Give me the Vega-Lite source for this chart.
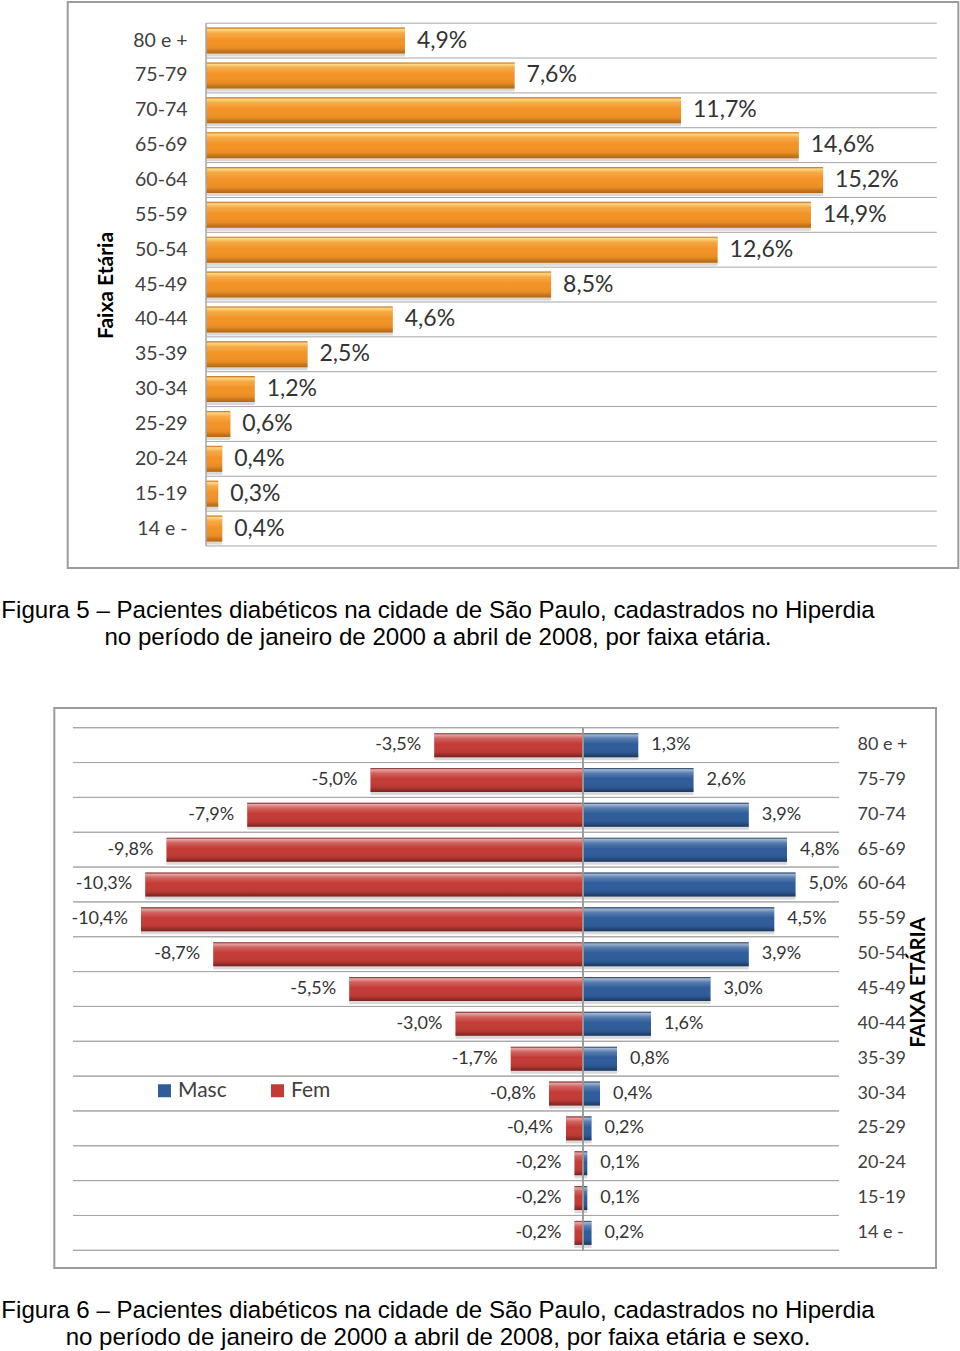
{
  "$schema": "https://vega.github.io/schema/vega-lite/v6.json",
  "padding": 0,
  "autosize": {"type": "pad"},
  "spacing": 140,
  "bounds": "flush",
  "resolve": {"legend": {"color": "independent"}},
  "config": {
    "view": {"stroke": "transparent"},
    "font": "Lato",
    "locale": {"number": {"decimal": ",", "thousands": ".", "grouping": [3], "currency": ["R$", ""], "minus": "-"}}
  },
  "datasets": {
    "total": [
      {"faixa": "80 e +", "pct": 0.049},
      {"faixa": "75-79", "pct": 0.076},
      {"faixa": "70-74", "pct": 0.117},
      {"faixa": "65-69", "pct": 0.146},
      {"faixa": "60-64", "pct": 0.152},
      {"faixa": "55-59", "pct": 0.149},
      {"faixa": "50-54", "pct": 0.126},
      {"faixa": "45-49", "pct": 0.085},
      {"faixa": "40-44", "pct": 0.046},
      {"faixa": "35-39", "pct": 0.025},
      {"faixa": "30-34", "pct": 0.012},
      {"faixa": "25-29", "pct": 0.006},
      {"faixa": "20-24", "pct": 0.004},
      {"faixa": "15-19", "pct": 0.003},
      {"faixa": "14 e -", "pct": 0.004}
    ],
    "sexo": [
      {"faixa": "80 e +", "sexo": "Masc", "pct": 0.013},
      {"faixa": "80 e +", "sexo": "Fem", "pct": -0.035},
      {"faixa": "75-79", "sexo": "Masc", "pct": 0.026},
      {"faixa": "75-79", "sexo": "Fem", "pct": -0.050},
      {"faixa": "70-74", "sexo": "Masc", "pct": 0.039},
      {"faixa": "70-74", "sexo": "Fem", "pct": -0.079},
      {"faixa": "65-69", "sexo": "Masc", "pct": 0.048},
      {"faixa": "65-69", "sexo": "Fem", "pct": -0.098},
      {"faixa": "60-64", "sexo": "Masc", "pct": 0.050},
      {"faixa": "60-64", "sexo": "Fem", "pct": -0.103},
      {"faixa": "55-59", "sexo": "Masc", "pct": 0.045},
      {"faixa": "55-59", "sexo": "Fem", "pct": -0.104},
      {"faixa": "50-54", "sexo": "Masc", "pct": 0.039},
      {"faixa": "50-54", "sexo": "Fem", "pct": -0.087},
      {"faixa": "45-49", "sexo": "Masc", "pct": 0.030},
      {"faixa": "45-49", "sexo": "Fem", "pct": -0.055},
      {"faixa": "40-44", "sexo": "Masc", "pct": 0.016},
      {"faixa": "40-44", "sexo": "Fem", "pct": -0.030},
      {"faixa": "35-39", "sexo": "Masc", "pct": 0.008},
      {"faixa": "35-39", "sexo": "Fem", "pct": -0.017},
      {"faixa": "30-34", "sexo": "Masc", "pct": 0.004},
      {"faixa": "30-34", "sexo": "Fem", "pct": -0.008},
      {"faixa": "25-29", "sexo": "Masc", "pct": 0.002},
      {"faixa": "25-29", "sexo": "Fem", "pct": -0.004},
      {"faixa": "20-24", "sexo": "Masc", "pct": 0.001},
      {"faixa": "20-24", "sexo": "Fem", "pct": -0.002},
      {"faixa": "15-19", "sexo": "Masc", "pct": 0.001},
      {"faixa": "15-19", "sexo": "Fem", "pct": -0.002},
      {"faixa": "14 e -", "sexo": "Masc", "pct": 0.002},
      {"faixa": "14 e -", "sexo": "Fem", "pct": -0.002}
    ]
  },
  "vconcat": [
    {
      "width": 958,
      "height": 566,
      "data": {"name": "total"},
      "title": {
        "text": ["Figura 5 – Pacientes diabéticos na cidade de São Paulo, cadastrados no Hiperdia", "no período de janeiro de 2000 a abril de 2008, por faixa etária."],
        "orient": "bottom", "anchor": "middle", "frame": "group", "align": "center", "dx": -42, "offset": 29.5,
        "font": "Liberation Sans", "fontSize": 24.1, "fontWeight": "normal", "color": "#000000", "lineHeight": 27, "baseline": "top"
      },
      "layer": [
        {
          "data": {"values": [{}]},
          "mark": {"type": "rect", "filled": false, "color": "#9c9c9c", "strokeWidth": 2},
          "encoding": {
            "x": {"datum": -0.034064, "type": "quantitative", "scale": {"domain": [-0.050493, 0.185468], "nice": false, "zero": false}, "axis": null},
            "x2": {"datum": 0.1853}
          }
        },
        {
          "mark": {"type": "rule", "color": "#a6a6a6", "strokeWidth": 1},
          "encoding": {
            "y": {"field": "faixa", "type": "nominal", "sort": null, "bandPosition": 0, "scale": {"paddingInner": 0, "paddingOuter": 0.62, "align": 0.49},
              "axis": {"orient": "left", "offset": -205, "labelPadding": 19, "ticks": false, "domain": false, "grid": false, "labelFontSize": 19.5, "labelColor": "#404040", "labelFont": "Lato", "title": "Faixa Etária", "titleFontSize": 21, "titleFontWeight": "bold", "titleColor": "#000000", "titleFont": "Lato", "titlePadding": 16}},
            "x": {"datum": 0, "type": "quantitative", "scale": {"domain": [-0.050493, 0.185468], "nice": false, "zero": false}, "axis": null},
            "x2": {"datum": 0.18}
          }
        },
        {
          "transform": [{"filter": "datum.faixa == '14 e -'"}],
          "mark": {"type": "rule", "color": "#a6a6a6", "strokeWidth": 1},
          "encoding": {
            "y": {"field": "faixa", "type": "nominal", "sort": null, "bandPosition": 1, "scale": {"paddingInner": 0, "paddingOuter": 0.62, "align": 0.49},
              "axis": {"orient": "left", "offset": -205, "labelPadding": 19, "ticks": false, "domain": false, "grid": false, "labelFontSize": 19.5, "labelColor": "#404040", "labelFont": "Lato", "title": "Faixa Etária", "titleFontSize": 21, "titleFontWeight": "bold", "titleColor": "#000000", "titleFont": "Lato", "titlePadding": 16}},
            "x": {"datum": 0, "type": "quantitative", "scale": {"domain": [-0.050493, 0.185468], "nice": false, "zero": false}, "axis": null},
            "x2": {"datum": 0.18}
          }
        },
        {
          "mark": {"type": "bar", "height": 26, "yOffset": 3, "color": "#808080", "opacity": 0.3},
          "encoding": {
            "y": {"field": "faixa", "type": "nominal", "sort": null, "scale": {"paddingInner": 0, "paddingOuter": 0.62, "align": 0.49},
              "axis": {"orient": "left", "offset": -205, "labelPadding": 19, "ticks": false, "domain": false, "grid": false, "labelFontSize": 19.5, "labelColor": "#404040", "labelFont": "Lato", "title": "Faixa Etária", "titleFontSize": 21, "titleFontWeight": "bold", "titleColor": "#000000", "titleFont": "Lato", "titlePadding": 16}},
            "x": {"field": "pct", "type": "quantitative", "scale": {"domain": [-0.050493, 0.185468], "nice": false, "zero": false}, "axis": null}
          }
        },
        {
          "mark": {"type": "bar", "height": 26, "color": "#F39325"},
          "encoding": {
            "y": {"field": "faixa", "type": "nominal", "sort": null, "scale": {"paddingInner": 0, "paddingOuter": 0.62, "align": 0.49},
              "axis": {"orient": "left", "offset": -205, "labelPadding": 19, "ticks": false, "domain": false, "grid": false, "labelFontSize": 19.5, "labelColor": "#404040", "labelFont": "Lato", "title": "Faixa Etária", "titleFontSize": 21, "titleFontWeight": "bold", "titleColor": "#000000", "titleFont": "Lato", "titlePadding": 16}},
            "x": {"field": "pct", "type": "quantitative", "scale": {"domain": [-0.050493, 0.185468], "nice": false, "zero": false}, "axis": null}
          }
        },
        {
          "mark": {
            "type": "bar", "height": 26,
            "fill": {"gradient": "linear", "x1": 0, "y1": 0, "x2": 0, "y2": 1, "stops": [
              {"offset": 0, "color": "rgba(140,70,0,0.35)"},
              {"offset": 0.07, "color": "rgba(255,240,170,0.75)"},
              {"offset": 0.22, "color": "rgba(255,230,150,0.25)"},
              {"offset": 0.45, "color": "rgba(255,255,255,0)"},
              {"offset": 0.8, "color": "rgba(0,0,0,0.05)"},
              {"offset": 1, "color": "rgba(90,40,0,0.4)"}
            ]}
          },
          "encoding": {
            "y": {"field": "faixa", "type": "nominal", "sort": null, "scale": {"paddingInner": 0, "paddingOuter": 0.62, "align": 0.49},
              "axis": {"orient": "left", "offset": -205, "labelPadding": 19, "ticks": false, "domain": false, "grid": false, "labelFontSize": 19.5, "labelColor": "#404040", "labelFont": "Lato", "title": "Faixa Etária", "titleFontSize": 21, "titleFontWeight": "bold", "titleColor": "#000000", "titleFont": "Lato", "titlePadding": 16}},
            "x": {"field": "pct", "type": "quantitative", "scale": {"domain": [-0.050493, 0.185468], "nice": false, "zero": false}, "axis": null}
          }
        },
        {
          "mark": {"type": "bar", "fillOpacity": 0, "stroke": "#a6a6a6", "strokeWidth": 1},
          "encoding": {
            "y": {"field": "faixa", "type": "nominal", "sort": null, "scale": {"paddingInner": 0, "paddingOuter": 0.62, "align": 0.49},
              "axis": {"orient": "left", "offset": -205, "labelPadding": 19, "ticks": false, "domain": false, "grid": false, "labelFontSize": 19.5, "labelColor": "#404040", "labelFont": "Lato", "title": "Faixa Etária", "titleFontSize": 21, "titleFontWeight": "bold", "titleColor": "#000000", "titleFont": "Lato", "titlePadding": 16}},
            "x": {"datum": 0, "type": "quantitative", "scale": {"domain": [-0.050493, 0.185468], "nice": false, "zero": false}, "axis": null},
            "x2": {"datum": 0}
          }
        },
        {
          "mark": {"type": "text", "align": "left", "baseline": "middle", "dx": 12, "fontSize": 23, "color": "#333333", "font": "Lato"},
          "encoding": {
            "y": {"field": "faixa", "type": "nominal", "sort": null, "scale": {"paddingInner": 0, "paddingOuter": 0.62, "align": 0.49},
              "axis": {"orient": "left", "offset": -205, "labelPadding": 19, "ticks": false, "domain": false, "grid": false, "labelFontSize": 19.5, "labelColor": "#404040", "labelFont": "Lato", "title": "Faixa Etária", "titleFontSize": 21, "titleFontWeight": "bold", "titleColor": "#000000", "titleFont": "Lato", "titlePadding": 16}},
            "x": {"field": "pct", "type": "quantitative", "scale": {"domain": [-0.050493, 0.185468], "nice": false, "zero": false}, "axis": null},
            "text": {"field": "pct", "type": "quantitative", "format": ".1%"}
          }
        }
      ]
    },
    {
      "width": 958,
      "height": 560,
      "data": {"name": "sexo"},
      "title": {
        "text": ["Figura 6 – Pacientes diabéticos na cidade de São Paulo, cadastrados no Hiperdia", "no período de janeiro de 2000 a abril de 2008, por faixa etária e sexo."],
        "orient": "bottom", "anchor": "middle", "frame": "group", "align": "center", "dx": -42, "offset": 29.5,
        "font": "Liberation Sans", "fontSize": 24.1, "fontWeight": "normal", "color": "#000000", "lineHeight": 27, "baseline": "top"
      },
      "layer": [
        {
          "data": {"values": [{}]},
          "mark": {"type": "rect", "filled": false, "color": "#9c9c9c", "strokeWidth": 2},
          "encoding": {
            "x": {"datum": -0.1244, "type": "quantitative", "scale": {"domain": [-0.136941, 0.088471], "nice": false, "zero": false}, "axis": null},
            "x2": {"datum": 0.083059}
          }
        },
        {
          "mark": {"type": "rule", "color": "#a6a6a6", "strokeWidth": 1},
          "encoding": {
            "y": {"field": "faixa", "type": "nominal", "sort": null, "bandPosition": 0, "scale": {"paddingInner": 0, "paddingOuter": 0.537, "align": 0.527},
              "axis": {"orient": "right", "offset": -120, "labelPadding": 18, "ticks": false, "domain": false, "grid": false, "labelFontSize": 18, "labelColor": "#404040", "labelFont": "Lato", "title": "FAIXA ETÁRIA", "titleFontSize": 20, "titleFontWeight": "bold", "titleColor": "#000000", "titleFont": "Lato", "titleAngle": 270, "titleBaseline": "top", "titlePadding": 1, "titleY": 274}},
            "x": {"datum": -0.12, "type": "quantitative", "scale": {"domain": [-0.136941, 0.088471], "nice": false, "zero": false}, "axis": null},
            "x2": {"datum": 0.060235}
          }
        },
        {
          "transform": [{"filter": "datum.faixa == '14 e -'"}],
          "mark": {"type": "rule", "color": "#a6a6a6", "strokeWidth": 1},
          "encoding": {
            "y": {"field": "faixa", "type": "nominal", "sort": null, "bandPosition": 1, "scale": {"paddingInner": 0, "paddingOuter": 0.537, "align": 0.527},
              "axis": {"orient": "right", "offset": -120, "labelPadding": 18, "ticks": false, "domain": false, "grid": false, "labelFontSize": 18, "labelColor": "#404040", "labelFont": "Lato", "title": "FAIXA ETÁRIA", "titleFontSize": 20, "titleFontWeight": "bold", "titleColor": "#000000", "titleFont": "Lato", "titleAngle": 270, "titleBaseline": "top", "titlePadding": 1, "titleY": 274}},
            "x": {"datum": -0.12, "type": "quantitative", "scale": {"domain": [-0.136941, 0.088471], "nice": false, "zero": false}, "axis": null},
            "x2": {"datum": 0.060235}
          }
        },
        {
          "mark": {"type": "bar", "height": 24, "yOffset": 3, "color": "#808080", "opacity": 0.3},
          "encoding": {
            "y": {"field": "faixa", "type": "nominal", "sort": null, "scale": {"paddingInner": 0, "paddingOuter": 0.537, "align": 0.527},
              "axis": {"orient": "right", "offset": -120, "labelPadding": 18, "ticks": false, "domain": false, "grid": false, "labelFontSize": 18, "labelColor": "#404040", "labelFont": "Lato", "title": "FAIXA ETÁRIA", "titleFontSize": 20, "titleFontWeight": "bold", "titleColor": "#000000", "titleFont": "Lato", "titleAngle": 270, "titleBaseline": "top", "titlePadding": 1, "titleY": 274}},
            "x": {"field": "pct", "type": "quantitative", "scale": {"domain": [-0.136941, 0.088471], "nice": false, "zero": false}, "axis": null}
          }
        },
        {
          "mark": {"type": "bar", "height": 24},
          "encoding": {
            "y": {"field": "faixa", "type": "nominal", "sort": null, "scale": {"paddingInner": 0, "paddingOuter": 0.537, "align": 0.527},
              "axis": {"orient": "right", "offset": -120, "labelPadding": 18, "ticks": false, "domain": false, "grid": false, "labelFontSize": 18, "labelColor": "#404040", "labelFont": "Lato", "title": "FAIXA ETÁRIA", "titleFontSize": 20, "titleFontWeight": "bold", "titleColor": "#000000", "titleFont": "Lato", "titleAngle": 270, "titleBaseline": "top", "titlePadding": 1, "titleY": 274}},
            "x": {"field": "pct", "type": "quantitative", "scale": {"domain": [-0.136941, 0.088471], "nice": false, "zero": false}, "axis": null},
            "color": {
              "field": "sexo", "type": "nominal",
              "scale": {"domain": ["Masc", "Fem"], "range": ["#2F5D9B", "#C43B36"]},
              "legend": {
                "orient": "none", "legendX": 153, "legendY": 372, "direction": "horizontal", "title": null,
                "symbolType": "square", "symbolSize": 169, "symbolStrokeWidth": 0,
                "labelFontSize": 21, "labelColor": "#404040", "labelFont": "Lato", "labelOffset": 3, "columnPadding": 40, "padding": 0
              }
            }
          }
        },
        {
          "mark": {
            "type": "bar", "height": 24,
            "fill": {"gradient": "linear", "x1": 0, "y1": 0, "x2": 0, "y2": 1, "stops": [
              {"offset": 0, "color": "rgba(0,0,0,0.3)"},
              {"offset": 0.07, "color": "rgba(255,255,255,0.55)"},
              {"offset": 0.22, "color": "rgba(255,255,255,0.2)"},
              {"offset": 0.45, "color": "rgba(255,255,255,0)"},
              {"offset": 0.8, "color": "rgba(0,0,0,0.05)"},
              {"offset": 1, "color": "rgba(0,0,0,0.4)"}
            ]}
          },
          "encoding": {
            "y": {"field": "faixa", "type": "nominal", "sort": null, "scale": {"paddingInner": 0, "paddingOuter": 0.537, "align": 0.527},
              "axis": {"orient": "right", "offset": -120, "labelPadding": 18, "ticks": false, "domain": false, "grid": false, "labelFontSize": 18, "labelColor": "#404040", "labelFont": "Lato", "title": "FAIXA ETÁRIA", "titleFontSize": 20, "titleFontWeight": "bold", "titleColor": "#000000", "titleFont": "Lato", "titleAngle": 270, "titleBaseline": "top", "titlePadding": 1, "titleY": 274}},
            "x": {"field": "pct", "type": "quantitative", "scale": {"domain": [-0.136941, 0.088471], "nice": false, "zero": false}, "axis": null}
          }
        },
        {
          "mark": {"type": "bar", "fillOpacity": 0, "stroke": "#999999", "strokeWidth": 1},
          "encoding": {
            "y": {"field": "faixa", "type": "nominal", "sort": null, "scale": {"paddingInner": 0, "paddingOuter": 0.537, "align": 0.527},
              "axis": {"orient": "right", "offset": -120, "labelPadding": 18, "ticks": false, "domain": false, "grid": false, "labelFontSize": 18, "labelColor": "#404040", "labelFont": "Lato", "title": "FAIXA ETÁRIA", "titleFontSize": 20, "titleFontWeight": "bold", "titleColor": "#000000", "titleFont": "Lato", "titleAngle": 270, "titleBaseline": "top", "titlePadding": 1, "titleY": 274}},
            "x": {"datum": 0, "type": "quantitative", "scale": {"domain": [-0.136941, 0.088471], "nice": false, "zero": false}, "axis": null},
            "x2": {"datum": 0}
          }
        },
        {
          "transform": [{"filter": "datum.sexo == 'Masc'"}],
          "mark": {"type": "text", "align": "left", "baseline": "middle", "dx": 13, "fontSize": 18, "color": "#333333", "font": "Lato"},
          "encoding": {
            "y": {"field": "faixa", "type": "nominal", "sort": null, "scale": {"paddingInner": 0, "paddingOuter": 0.537, "align": 0.527},
              "axis": {"orient": "right", "offset": -120, "labelPadding": 18, "ticks": false, "domain": false, "grid": false, "labelFontSize": 18, "labelColor": "#404040", "labelFont": "Lato", "title": "FAIXA ETÁRIA", "titleFontSize": 20, "titleFontWeight": "bold", "titleColor": "#000000", "titleFont": "Lato", "titleAngle": 270, "titleBaseline": "top", "titlePadding": 1, "titleY": 274}},
            "x": {"field": "pct", "type": "quantitative", "scale": {"domain": [-0.136941, 0.088471], "nice": false, "zero": false}, "axis": null},
            "text": {"field": "pct", "type": "quantitative", "format": ".1%"}
          }
        },
        {
          "transform": [{"filter": "datum.sexo == 'Fem'"}],
          "mark": {"type": "text", "align": "right", "baseline": "middle", "dx": -13, "fontSize": 18, "color": "#333333", "font": "Lato"},
          "encoding": {
            "y": {"field": "faixa", "type": "nominal", "sort": null, "scale": {"paddingInner": 0, "paddingOuter": 0.537, "align": 0.527},
              "axis": {"orient": "right", "offset": -120, "labelPadding": 18, "ticks": false, "domain": false, "grid": false, "labelFontSize": 18, "labelColor": "#404040", "labelFont": "Lato", "title": "FAIXA ETÁRIA", "titleFontSize": 20, "titleFontWeight": "bold", "titleColor": "#000000", "titleFont": "Lato", "titleAngle": 270, "titleBaseline": "top", "titlePadding": 1, "titleY": 274}},
            "x": {"field": "pct", "type": "quantitative", "scale": {"domain": [-0.136941, 0.088471], "nice": false, "zero": false}, "axis": null},
            "text": {"field": "pct", "type": "quantitative", "format": ".1%"}
          }
        }
      ]
    }
  ]
}
